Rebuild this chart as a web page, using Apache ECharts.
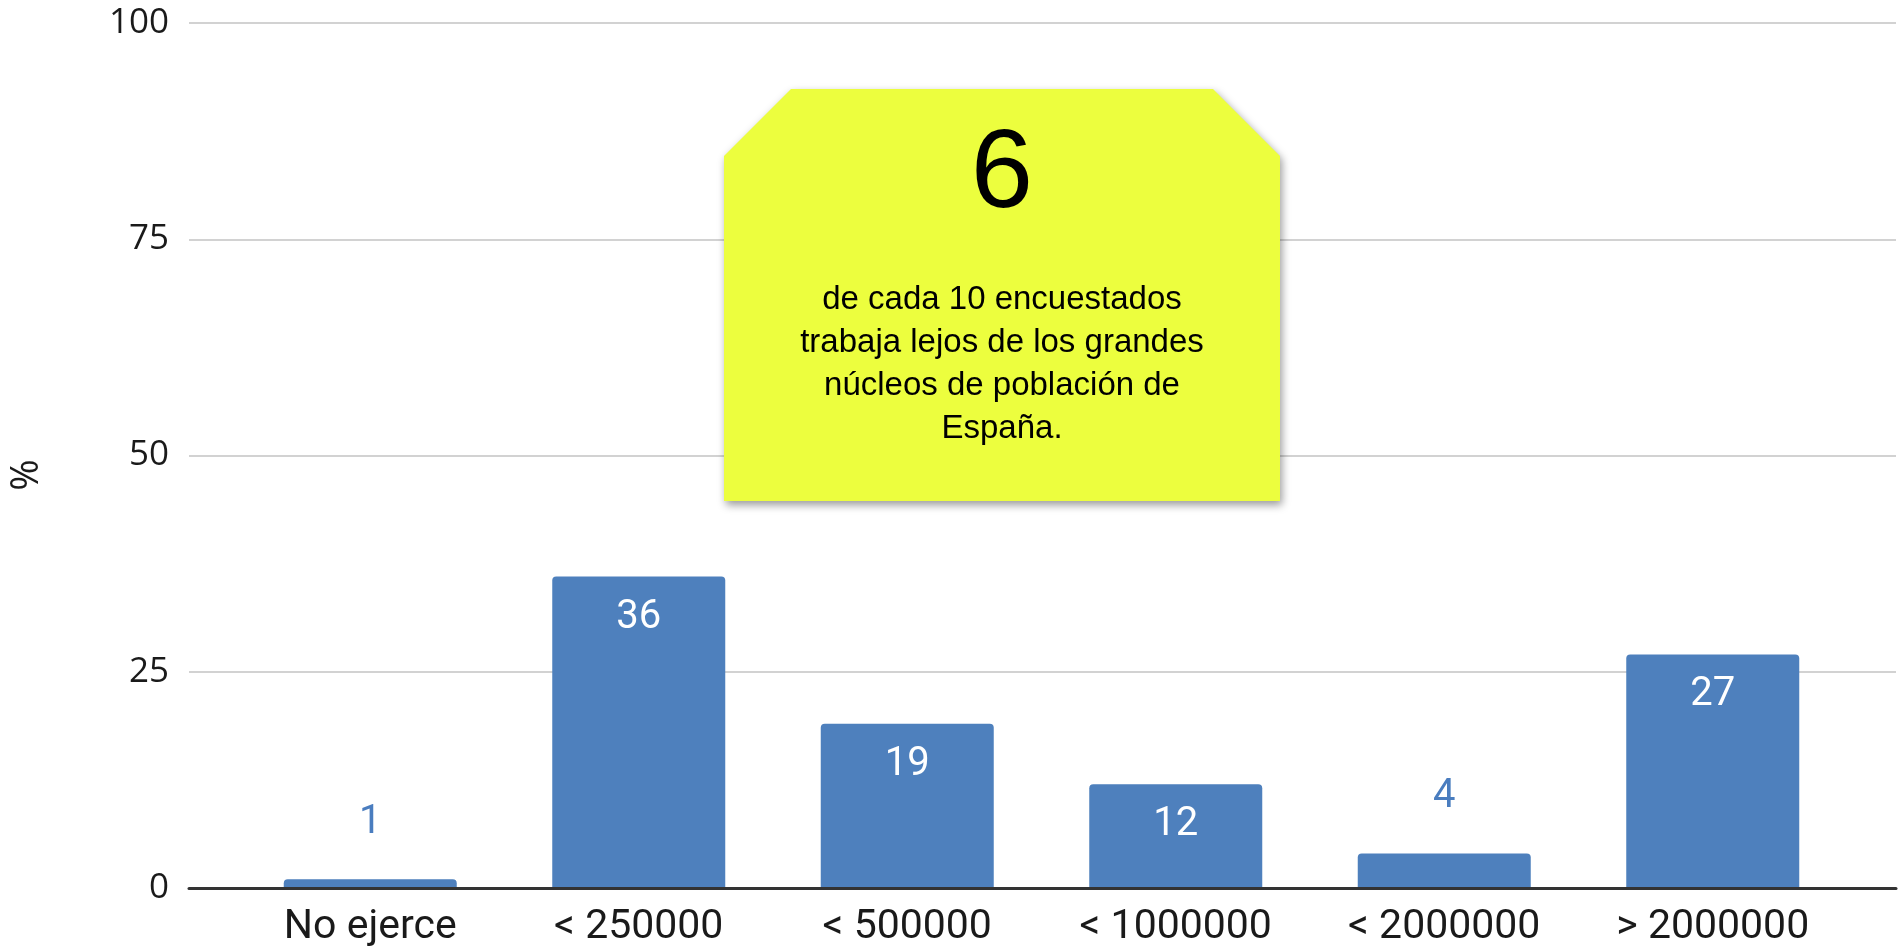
<!DOCTYPE html>
<html><head><meta charset="utf-8">
<script src="https://cdn.jsdelivr.net/npm/echarts@6/dist/echarts.min.js"></script>
<style>html,body{margin:0;padding:0;background:#fff}#c{width:1902px;height:947px}</style>
</head><body><div id="c"></div>
<script>
const categories = ['No ejerce', '< 250000', '< 500000', '< 1000000', '< 2000000', '> 2000000'];
const values = [1, 36, 19, 12, 4, 27];
const yMin = 0, yMax = 100, yStep = 25;
const yAxisTitle = '%';
const noteNumber = '6';
const noteLines = ['de cada 10 encuestados', 'trabaja lejos de los grandes', 'núcleos de población de', 'España.'];

const BAR = '#4e80bd';
const chart = echarts.init(document.getElementById('c'), null, {renderer: 'canvas'});

const seriesData = values.map(v => {
  const inside = v >= 10;
  return {
    value: v,
    label: inside
      ? {position: 'insideTop', distance: 21, color: '#ffffff'}
      : {position: 'top', distance: 36, color: '#4a7dbf'}
  };
});

const gTop = 23, gBottom = 59;
chart.setOption({
  animation: false,
  backgroundColor: '#ffffff',
  grid: [
    {left: 189, right: 6, top: gTop, bottom: gBottom, containLabel: false, outerBoundsMode: 'none'},
    {left: 236, right: 55, top: gTop, bottom: gBottom, containLabel: false, outerBoundsMode: 'none'}
  ],
  xAxis: [
    {gridIndex: 0, type: 'category', data: [''], z: 5,
     axisLine: {show: true, lineStyle: {color: '#333333', width: 3}},
     axisTick: {show: false}, axisLabel: {show: false}, splitLine: {show: false}},
    {gridIndex: 1, type: 'category', data: categories,
     axisLine: {show: false}, axisTick: {show: false},
     axisLabel: {margin: 19, fontFamily: 'Roboto', fontSize: 41, color: '#1a1a1a'}}
  ],
  yAxis: [
    {gridIndex: 0, type: 'value', min: yMin, max: yMax, interval: yStep,
     axisLine: {show: false}, axisTick: {show: false},
     axisLabel: {margin: 20, fontFamily: 'Open Sans', fontSize: 35, color: '#1a1a1a'},
     splitLine: {show: true, lineStyle: {color: '#d2d2d2', width: 2}}},
    {gridIndex: 1, type: 'value', min: yMin, max: yMax, interval: yStep, show: false,
     splitLine: {show: false}}
  ],
  series: [{
    type: 'bar',
    xAxisIndex: 1, yAxisIndex: 1,
    data: seriesData,
    barWidth: 173,
    itemStyle: {color: BAR, borderRadius: [4, 4, 0, 0]},
    label: {show: true, fontFamily: 'Roboto', fontSize: 40}
  }],
  graphic: [
    {type: 'text', x: 27, y: 475, rotation: Math.PI / 2,
     style: {text: yAxisTitle, font: '38px "Open Sans"', fill: '#1a1a1a', align: 'center', verticalAlign: 'middle'}},
    {type: 'polygon', z: 10,
     shape: {points: [[724, 501], [724, 156], [791, 89], [1213, 89], [1280, 156], [1280, 501]]},
     style: {fill: '#ecfe3e', shadowBlur: 9, shadowColor: 'rgba(0,0,0,0.4)', shadowOffsetX: 2, shadowOffsetY: 4}},
    {type: 'text', z: 11, x: 1002, y: 176,
     style: {text: noteNumber, font: '112px "Liberation Sans"', fill: '#000000', align: 'center', verticalAlign: 'middle'}},
    {type: 'text', z: 11, x: 1002, y: 364,
     style: {text: noteLines.join('\n'), font: '33px "Liberation Sans"', lineHeight: 43, fill: '#000000', align: 'center', verticalAlign: 'middle'}}
  ]
});
</script></body></html>
